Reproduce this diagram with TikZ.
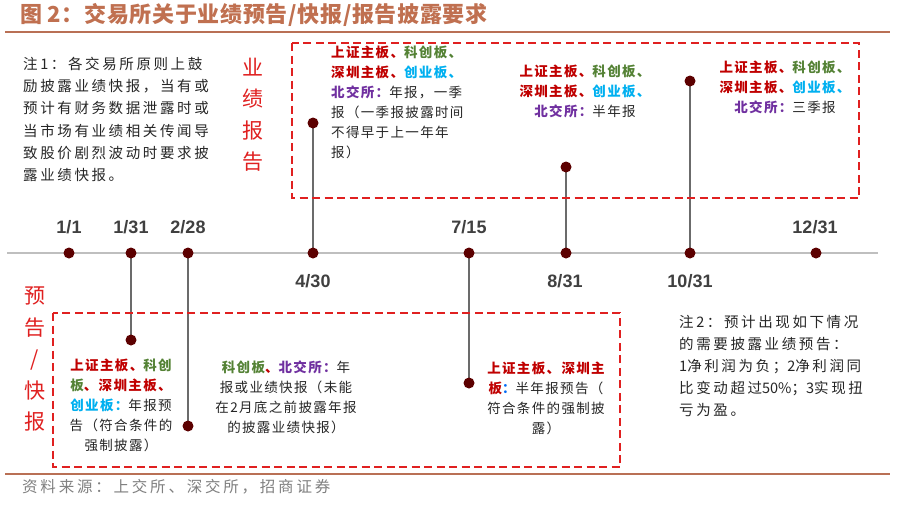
\documentclass[tikz,border=0pt]{standalone}
\usepackage{fontspec}
\usetikzlibrary{backgrounds}
\newfontfamily\cjk{Noto Sans CJK SC}
\newfontfamily\cjkbox{Noto Sans CJK SC}[LetterSpace=10]
\newfontfamily\cjknote{Noto Sans CJK SC}[LetterSpace=18]
\newfontfamily\cjksrc{Noto Sans CJK SC}[LetterSpace=18]
\newfontfamily\cjktitle{Noto Sans CJK SC}[LetterSpace=3]
\newfontfamily\datefont{Liberation Sans}
\definecolor{titlebrown}{RGB}{192,112,80}
\definecolor{rulebrown}{RGB}{185,112,85}
\definecolor{boxred}{RGB}{224,32,32}
\definecolor{hred}{RGB}{192,0,0}
\definecolor{hgreen}{RGB}{84,130,53}
\definecolor{hcyan}{RGB}{0,176,240}
\definecolor{hpurple}{RGB}{112,48,160}
\definecolor{bodytxt}{RGB}{38,38,38}
\definecolor{dotcol}{RGB}{92,0,0}
\definecolor{datecol}{RGB}{64,64,64}
\newcommand\tRed[1]{\textcolor{hred}{\bfseries #1}}
\newcommand\tGreen[1]{\textcolor{hgreen}{\bfseries #1}}
\newcommand\tCyan[1]{\textcolor{hcyan}{\bfseries #1}}
\newcommand\tPurple[1]{\textcolor{hpurple}{\bfseries #1}}
\newcommand\tDig[1]{{\cjk #1}}
\begin{document}
\begin{tikzpicture}[x=1pt,y=-1pt,
  dot/.style={circle,fill=dotcol,inner sep=0pt,minimum size=11pt},
  stem/.style={draw=black!58,line width=1.6pt},
  timeline/.style={draw=black!25,line width=1.5pt},
  dbox/.style={draw=boxred,line width=2pt,dash pattern=on 8pt off 4.5pt},
  datelbl/.style={font=\datefont\fontsize{18}{20}\selectfont\bfseries,text=datecol,inner sep=0pt},
  boxtxt/.style={font=\cjkbox\fontsize{13.5}{20}\selectfont,text=bodytxt,inner sep=0pt},
  notetxt/.style={font=\cjknote\fontsize{14.5}{22.2}\selectfont,text=bodytxt,inner sep=0pt,align=left,anchor=west},
  vlabel/.style={font=\cjk\fontsize{21}{31.5}\selectfont,text=boxred,inner sep=0pt,align=center}
]
\useasboundingbox (0,0) rectangle (900,504);

% title and rules
\node[font=\cjktitle\fontsize{22}{24}\selectfont\bfseries,text=titlebrown,anchor=west,inner sep=0pt] (title) at (20,15) {图 2：交易所关于业绩预告/快报/报告披露要求};
\draw[rulebrown,line width=2.2pt] (5,32) -- (890,32);
\draw[rulebrown,line width=2.2pt] (5,474) -- (890,474);
\node[font=\cjksrc\fontsize{15.5}{18}\selectfont,text=black!50,anchor=west,inner sep=0pt] (src) at (22,487) {资料来源：上交所、深交所，招商证券};

% dashed boxes
\draw[dbox] (292,43) rectangle (859,198);
\draw[dbox] (53,313) rectangle (620,467);

% timeline coordinates
\coordinate (tlA) at (7,253);
\coordinate (tlB) at (878,253);

% dots on the timeline
\node[dot] (d0101) at (69,253) {};
\node[dot] (d0131) at (131,253) {};
\node[dot] (d0228) at (188,253) {};
\node[dot] (d0430) at (313,253) {};
\node[dot] (d0715) at (469,253) {};
\node[dot] (d0831) at (566,253) {};
\node[dot] (d1031) at (690,253) {};
\node[dot] (d1231) at (816,253) {};

% stem end dots
\node[dot] (u0430) at (313,123) {};
\node[dot] (u0831) at (566,167) {};
\node[dot] (u1031) at (690,81) {};
\node[dot] (l0131) at (131,340) {};
\node[dot] (l0228) at (188,426) {};
\node[dot] (l0715) at (469,383) {};

\begin{pgfonlayer}{background}
\fill[white] (0,0) rectangle (900,504);
\draw[timeline] (tlA) -- (tlB);
\draw[stem] (d0430.center) -- (u0430.center);
\draw[stem] (d0831.center) -- (u0831.center);
\draw[stem] (d1031.center) -- (u1031.center);
\draw[stem] (d0131.center) -- (l0131.center);
\draw[stem] (d0228.center) -- (l0228.center);
\draw[stem] (d0715.center) -- (l0715.center);
\end{pgfonlayer}

% date labels
\node[datelbl] (t0101) at (69,227) {1/1};
\node[datelbl] (t0131) at (131,227) {1/31};
\node[datelbl] (t0228) at (188,227) {2/28};
\node[datelbl] (t0715) at (469,227) {7/15};
\node[datelbl] (t1231) at (815,227) {12/31};
\node[datelbl] (t0430) at (313,281) {4/30};
\node[datelbl] (t0831) at (565,281) {8/31};
\node[datelbl] (t1031) at (690,281) {10/31};

% vertical labels
\node[vlabel] (vA) at (253,114.5) {业\\绩\\报\\告};
\node[vlabel] (vB) at (35,359) {预\\告\\/\\快\\报};

% notes
\node[notetxt] (note1) at (23,119.5) {注1：各交易所原则上鼓\\励披露业绩快报，当有或\\预计有财务数据泄露时或\\当市场有业绩相关传闻导\\致股价剧烈波动时要求披\\露业绩快报。};
\node[notetxt,font=\cjknote\fontsize{14.5}{22}\selectfont] (note2) at (679,366) {注2：预计出现如下情况\\的需要披露业绩预告：\\\tDig{1}净利润为负；\tDig{2}净利润同\\比变动超过\tDig{50\%}；\tDig{3}实现扭\\亏为盈。};

% upper box texts
\node[boxtxt,align=left,anchor=west] (ub1) at (331,102.5) {\tRed{上证主板、}\tGreen{科创板、}\\\tRed{深圳主板、}\tCyan{创业板、}\\\tPurple{北交所：}年报，一季\\报（一季报披露时间\\不得早于上一年年\\报）};
\node[boxtxt,align=center] (ub2) at (585,91) {\tRed{上证主板、}\tGreen{科创板、}\\\tRed{深圳主板、}\tCyan{创业板、}\\\tPurple{北交所：}半年报};
\node[boxtxt,align=center] (ub3) at (785,87) {\tRed{上证主板、}\tGreen{科创板、}\\\tRed{深圳主板、}\tCyan{创业板、}\\\tPurple{北交所：}三季报};

% lower box texts
\node[boxtxt,align=center] (lb1) at (121,405.5) {\tRed{上证主板、}\tGreen{科创}\\\tGreen{板}\tRed{、深圳主板、}\\\tCyan{创业板：}年报预\\告（符合条件的\\强制披露）};
\node[boxtxt,align=center] (lb2) at (286,397.5) {\tGreen{科创板}\tRed{、}\tPurple{北交所：}年\\报或业绩快报（未能\\在2月底之前披露年报\\的披露业绩快报）};
\node[boxtxt,align=center] (lb3) at (546,398) {\tRed{上证主板、深圳主}\\\tRed{板}\textcolor{hcyan!60!blue}{\bfseries ：}半年报预告（\\符合条件的强制披\\露）};
\end{tikzpicture}
\end{document}
